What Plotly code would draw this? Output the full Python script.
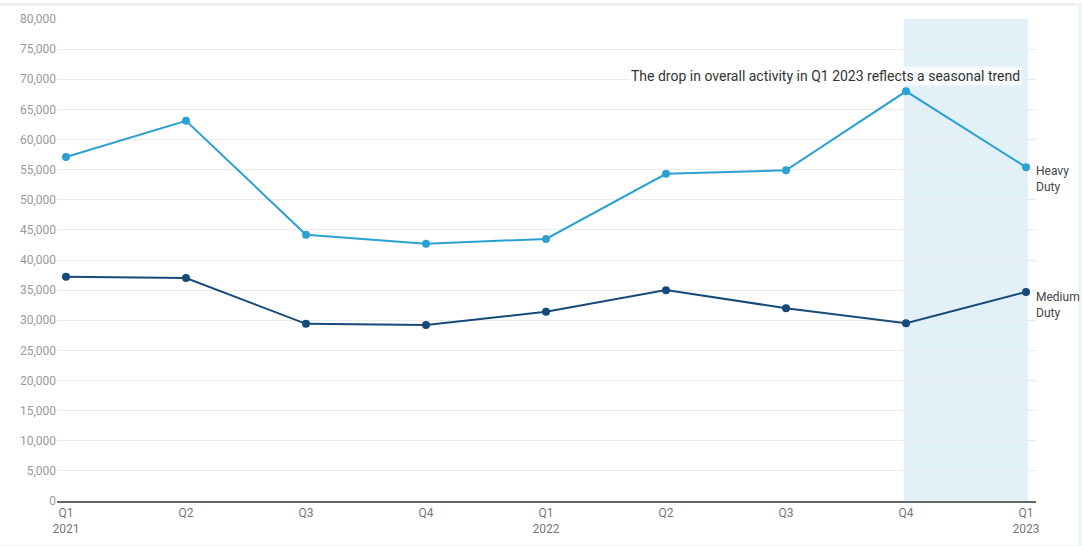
import plotly.graph_objects as go

quarters = ["Q1<br>2021", "Q2", "Q3", "Q4", "Q1<br>2022", "Q2", "Q3", "Q4", "Q1<br>2023"]
heavy_duty = [57100, 63100, 44200, 42700, 43500, 54300, 54900, 68000, 55400]
medium_duty = [37200, 37000, 29400, 29200, 31400, 35000, 32000, 29500, 34700]
y_ticks = list(range(0, 80001, 5000))

x_idx = list(range(len(quarters)))
HEAVY = "#2aa1d2"
MEDIUM = "#17497a"
FONT = "Roboto, Arial, sans-serif"

fig = go.Figure()

fig.add_trace(go.Scatter(
    x=x_idx, y=heavy_duty, mode="lines+markers", name="Heavy Duty",
    line=dict(color=HEAVY, width=2), marker=dict(color=HEAVY, size=8),
    showlegend=False,
))
fig.add_trace(go.Scatter(
    x=x_idx, y=medium_duty, mode="lines+markers", name="Medium Duty",
    line=dict(color=MEDIUM, width=2), marker=dict(color=MEDIUM, size=8),
    showlegend=False,
))

# highlighted period Q4 2022 - Q1 2023
fig.add_shape(type="rect", xref="x", yref="y", x0=7 - 0.02, x1=8 + 0.015,
              y0=0, y1=80000, fillcolor="#e2f0f8", line=dict(width=0), layer="below")

# outer frame of the card
fig.add_shape(type="rect", xref="paper", yref="paper", x0=-0.06, x1=1.045, y0=-0.095, y1=1.03,
              line=dict(color="#eef1f1", width=3), fillcolor="rgba(0,0,0,0)", layer="below")

fig.add_annotation(
    x=8 - 0.03, y=70600, xref="x", yref="y", xanchor="right", yanchor="middle",
    text="The drop in overall activity in Q1 2023 reflects a seasonal trend",
    showarrow=False, font=dict(family=FONT, size=14, color="#333333"),
    bgcolor="rgba(255,255,255,0.8)", borderpad=1,
)

# end labels for each series
fig.add_annotation(x=8, y=heavy_duty[-1], xref="x", yref="y", xanchor="left", yanchor="middle",
                   xshift=8, yshift=-12, text="Heavy<br>Duty", showarrow=False, align="left",
                   font=dict(family=FONT, size=12, color="#444444"))
fig.add_annotation(x=8, y=medium_duty[-1], xref="x", yref="y", xanchor="left", yanchor="middle",
                   xshift=8, yshift=-13, text="Medium<br>Duty", showarrow=False, align="left",
                   font=dict(family=FONT, size=12, color="#444444"))

fig.update_layout(
    width=1082, height=546,
    margin=dict(l=57, r=46, t=19, b=45, autoexpand=False),
    paper_bgcolor="white", plot_bgcolor="white",
    font=dict(family=FONT),
    xaxis=dict(
        range=[-0.075, 8.083], tickmode="array", tickvals=x_idx, ticktext=quarters,
        showgrid=False, zeroline=False, showline=True, linecolor="#666666", linewidth=1.5,
        ticks="", tickfont=dict(size=12, color="#777777"), automargin=False,
        fixedrange=True,
    ),
    yaxis=dict(
        range=[0, 80000], tickmode="array", tickvals=y_ticks,
        ticktext=[f"{v:,}" for v in y_ticks], automargin=False,
        showgrid=True, gridcolor="#ebebeb", gridwidth=1, zeroline=False,
        showline=False, ticks="", tickfont=dict(size=12, color="#9a9a9a"),
    ),
)

fig.write_html("out.html")
